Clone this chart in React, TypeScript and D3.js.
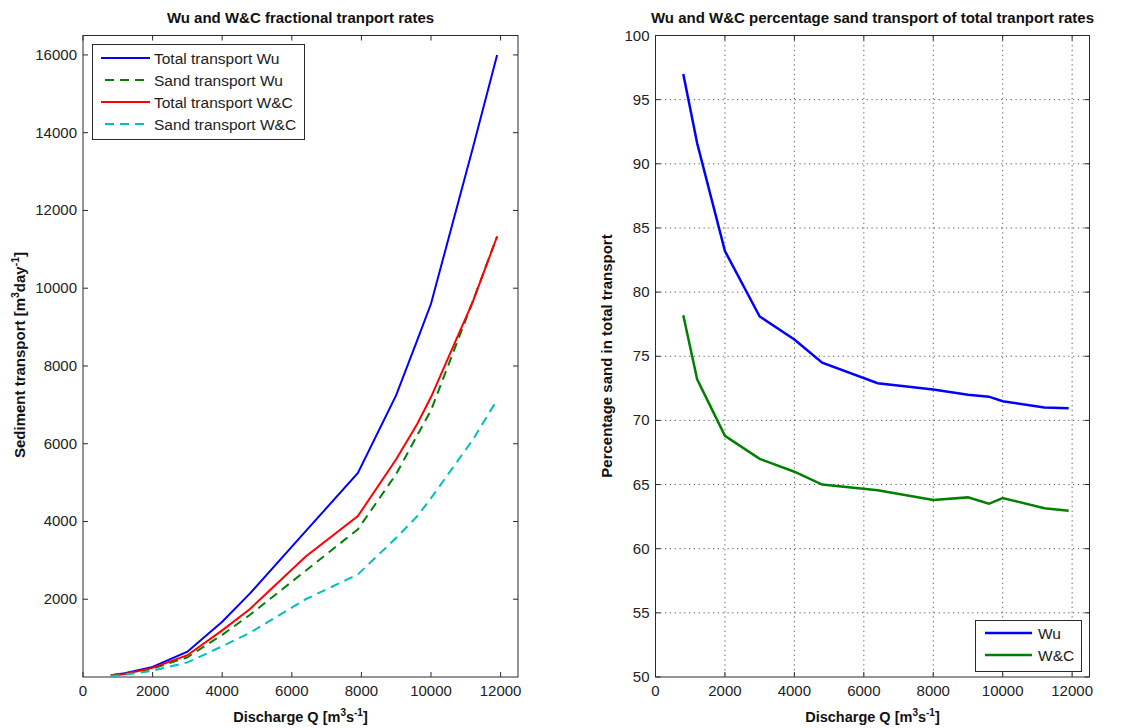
import React from "react";
import * as d3 from "d3";

// ---- data ----
const discharge = [800, 1200, 2000, 3000, 4000, 4800, 6400, 7900, 9000, 9600, 10000, 11200, 11900];
const totalWu = [45, 95, 260, 650, 1420, 2150, 3750, 5250, 7250, 8650, 9600, 13600, 16000];
const sandWu = [44, 87, 216, 508, 1085, 1600, 2735, 3800, 5220, 6210, 6860, 9660, 11330];
const totalWC = [35, 80, 235, 560, 1200, 1750, 3100, 4140, 5600, 6500, 7200, 9650, 11330];
const sandWC = [27, 59, 162, 375, 790, 1140, 2000, 2640, 3580, 4130, 4600, 6100, 7130];

const dischargePct = [800, 1200, 2000, 3000, 4000, 4800, 6400, 8000, 9000, 9600, 10000, 11200, 11900];
const pctWu = [97, 91.6, 83.2, 78.1, 76.3, 74.5, 72.9, 72.4, 72.0, 71.85, 71.5, 71.0, 70.95];
const pctWC = [78.2, 73.2, 68.8, 67.0, 66.0, 65.0, 64.55, 63.8, 64.0, 63.5, 63.95, 63.15, 62.95];

const xTicks = [0, 2000, 4000, 6000, 8000, 10000, 12000];
const yTicksLeft = [2000, 4000, 6000, 8000, 10000, 12000, 14000, 16000];
const yTicksRight = [50, 55, 60, 65, 70, 75, 80, 85, 90, 95, 100];

const leftSeries = [
  { name: "Total transport Wu", values: totalWu, color: "#0000ff", dash: "" },
  { name: "Sand transport Wu", values: sandWu, color: "#008000", dash: "9,6" },
  { name: "Total transport W&C", values: totalWC, color: "#ff0000", dash: "" },
  { name: "Sand transport W&C", values: sandWC, color: "#00bfbf", dash: "9,6" },
];
const rightSeries = [
  { name: "Wu", values: pctWu, color: "#0000ff" },
  { name: "W&C", values: pctWC, color: "#008000" },
];

const FONT = "'Liberation Sans', Arial, Helvetica, sans-serif";
const AX = "#2a2a2a";

const TOP = 35.5;
const BOT = 677;
const TICK_FS = 15;

export default function App() {
  const xL = d3.scaleLinear().domain([0, 12500]).range([83, 518]);
  const yL = d3.scaleLinear().domain([0, 16500]).range([BOT, TOP]);
  const xR = d3.scaleLinear().domain([0, 12500]).range([655.5, 1089.5]);
  const yR = d3.scaleLinear().domain([50, 100]).range([BOT, TOP]);

  const lineL = (vals: number[]) =>
    d3.line<number>().x((_, i) => xL(discharge[i])).y((d) => yL(d))(vals) || "";
  const lineR = (vals: number[]) =>
    d3.line<number>().x((_, i) => xR(dischargePct[i])).y((d) => yR(d))(vals) || "";

  const tickLen = 5;

  const frame = (x: any, y: any, yTicks: number[], grid: boolean, yfmt: (v: number) => string) => {
    const [x0, x1] = x.range();
    return (
      <g>
        {grid &&
          xTicks
            .filter((t) => t > 0)
            .map((t) => (
              <line key={"gx" + t} x1={x(t)} x2={x(t)} y1={TOP} y2={BOT} stroke="#555" strokeWidth={1} strokeDasharray="1.2,3.6" />
            ))}
        {grid &&
          yTicks
            .filter((t) => t > 50 && t < 100)
            .map((t) => (
              <line key={"gy" + t} x1={x0} x2={x1} y1={y(t)} y2={y(t)} stroke="#555" strokeWidth={1} strokeDasharray="1.2,3.6" />
            ))}
        <rect x={x0} y={TOP} width={x1 - x0} height={BOT - TOP} fill="none" stroke={AX} strokeWidth={1} />
        {xTicks.map((t) => (
          <g key={"xt" + t}>
            <line x1={x(t)} x2={x(t)} y1={BOT} y2={BOT - tickLen} stroke={AX} />
            <line x1={x(t)} x2={x(t)} y1={TOP} y2={TOP + tickLen} stroke={AX} />
            <text x={x(t)} y={696} textAnchor="middle" fontSize={TICK_FS} fill="#222" fontFamily={FONT}>
              {t}
            </text>
          </g>
        ))}
        {yTicks.map((t) => (
          <g key={"yt" + t}>
            <line x1={x0} x2={x0 + tickLen} y1={y(t)} y2={y(t)} stroke={AX} />
            <line x1={x1} x2={x1 - tickLen} y1={y(t)} y2={y(t)} stroke={AX} />
            <text x={x0 - 6} y={y(t) + 5} textAnchor="end" fontSize={TICK_FS} fill="#222" fontFamily={FONT}>
              {yfmt(t)}
            </text>
          </g>
        ))}
      </g>
    );
  };

  const xlabel = (cx: number) => (
    <text x={cx} y={722} textAnchor="middle" fontSize={14.5} fontWeight="bold" fill="#111" fontFamily={FONT}>
      Discharge Q [m
      <tspan dy={-6} fontSize={10}>3</tspan>
      <tspan dy={6}>s</tspan>
      <tspan dy={-6} fontSize={10}>-1</tspan>
      <tspan dy={6}>]</tspan>
    </text>
  );

  return (
    <svg width={1136} height={728} style={{ position: "absolute", left: 0, top: 0, background: "#fff" }}>
      <rect x={0} y={0} width={1136} height={728} fill="#fff" />
      {/* Left chart */}
      <text x={300.5} y={23} textAnchor="middle" fontSize={15} fontWeight="bold" fill="#111" fontFamily={FONT}>
        Wu and W&amp;C fractional tranport rates
      </text>
      {frame(xL, yL, yTicksLeft, false, (v) => String(v))}
      <g>
        {leftSeries.map((s) => (
          <path key={s.name} d={lineL(s.values)} fill="none" stroke={s.color} strokeWidth={2} strokeDasharray={s.dash || undefined} />
        ))}
      </g>
      <g>
        <rect x={92.5} y={44.5} width={212} height={95} fill="#fff" stroke={AX} strokeWidth={1} />
        {leftSeries.map((s, i) => (
          <g key={"lg" + s.name}>
            <line x1={101} x2={150} y1={58 + i * 22} y2={58 + i * 22} stroke={s.color} strokeWidth={2} strokeDasharray={s.dash || undefined} strokeDashoffset={s.dash ? -4 : 0} />
            <text x={154} y={58 + i * 22 + 5.5} fontSize={15.5} fill="#222" fontFamily={FONT}>
              {s.name}
            </text>
          </g>
        ))}
      </g>
      {xlabel(300.5)}
      <text transform={`translate(25,355) rotate(-90)`} textAnchor="middle" fontSize={15} fontWeight="bold" fill="#111" fontFamily={FONT}>
        Sediment transport [m
        <tspan dy={-6} fontSize={10.5}>3</tspan>
        <tspan dy={6}>day</tspan>
        <tspan dy={-6} fontSize={10.5}>-1</tspan>
        <tspan dy={6}>]</tspan>
      </text>

      {/* Right chart */}
      <text x={872.5} y={23} textAnchor="middle" fontSize={15} fontWeight="bold" fill="#111" fontFamily={FONT}>
        Wu and W&amp;C percentage sand transport of total tranport rates
      </text>
      {frame(xR, yR, yTicksRight, true, (v) => String(v))}
      <g>
        {rightSeries.map((s) => (
          <path key={s.name} d={lineR(s.values)} fill="none" stroke={s.color} strokeWidth={2.5} />
        ))}
      </g>
      <g>
        <rect x={975.5} y={620.5} width={106} height={51} fill="#fff" stroke={AX} strokeWidth={1} />
        {rightSeries.map((s, i) => (
          <g key={"rg" + s.name}>
            <line x1={985} x2={1032} y1={633 + i * 22} y2={633 + i * 22} stroke={s.color} strokeWidth={2.5} />
            <text x={1038} y={633 + i * 22 + 5.5} fontSize={15.5} fill="#222" fontFamily={FONT}>
              {s.name}
            </text>
          </g>
        ))}
      </g>
      {xlabel(872.5)}
      <text transform={`translate(612,356) rotate(-90)`} textAnchor="middle" fontSize={15} fontWeight="bold" fill="#111" fontFamily={FONT}>
        Percentage sand in total transport
      </text>
    </svg>
  );
}
